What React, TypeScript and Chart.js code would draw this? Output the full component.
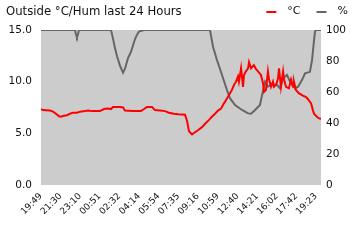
import React, { useEffect, useRef } from 'react';
import { Chart, registerables } from 'chart.js';

Chart.register(...registerables);

const chartTitle = 'Outside °C/Hum last 24 Hours';
const seriesNames = ['°C', '%'];
const seriesColors = ['#ff0000', '#666666'];

// x tick labels (clock times); the axis runs 24 h starting at the first one
const tickLabels = ['19:49', '21:30', '23:10', '00:51', '02:32', '04:14', '05:54', '07:35', '09:16', '10:59', '12:40', '14:21', '16:02', '17:42', '19:23'];
const spanMinutes = 1440;

// temperature samples: minutes after 19:49, and °C
const tempMinutes = [0, 10, 46, 62, 77, 93, 103, 118, 134, 149, 165, 185, 201, 226, 242, 262, 303, 324, 345, 360, 370, 406, 422, 432, 473, 514, 530, 545, 571, 586, 612, 638, 658, 684, 705, 741, 751, 761, 777, 792, 807, 828, 843, 864, 879, 895, 910, 926, 941, 951, 967, 982, 993, 1003, 1013, 1018, 1029, 1039, 1044, 1054, 1065, 1070, 1080, 1090, 1095, 1106, 1116, 1131, 1142, 1147, 1157, 1167, 1173, 1183, 1193, 1198, 1209, 1219, 1224, 1234, 1245, 1250, 1260, 1275, 1286, 1296, 1301, 1311, 1327, 1347, 1363, 1373, 1389, 1399, 1404, 1419, 1430, 1440];
const tempValues = [7.35, 7.25, 7.2, 7.1, 6.9, 6.65, 6.6, 6.7, 6.75, 6.9, 7.0, 7.0, 7.1, 7.15, 7.2, 7.15, 7.15, 7.35, 7.4, 7.35, 7.55, 7.55, 7.5, 7.2, 7.15, 7.15, 7.35, 7.55, 7.55, 7.25, 7.2, 7.15, 7.0, 6.9, 6.85, 6.8, 6.2, 5.2, 4.9, 5.1, 5.3, 5.6, 5.9, 6.3, 6.6, 6.9, 7.2, 7.4, 7.9, 8.2, 8.7, 9.2, 9.7, 10.0, 10.5, 10.0, 11.3, 9.5, 10.65, 11.0, 11.3, 11.9, 11.3, 11.5, 11.6, 11.2, 11.0, 10.65, 9.85, 9.0, 9.2, 11.0, 10.2, 9.5, 10.0, 9.5, 9.7, 10.3, 11.3, 9.5, 11.0, 10.2, 9.5, 9.35, 10.2, 9.5, 10.0, 9.2, 8.87, 8.65, 8.5, 8.3, 7.9, 7.2, 6.9, 6.6, 6.45, 6.4];

// humidity samples: minutes after 19:49, and %
const humMinutes = [0, 175, 180, 185, 190, 195, 360, 370, 381, 391, 406, 422, 432, 447, 463, 473, 483, 494, 504, 530, 869, 885, 905, 931, 957, 972, 998, 1034, 1054, 1065, 1080, 1101, 1126, 1142, 1152, 1167, 1188, 1214, 1229, 1245, 1265, 1281, 1306, 1322, 1342, 1358, 1383, 1394, 1399, 1409, 1414, 1440];
const humValues = [100, 100, 97, 95.5, 97, 100, 100, 94.6, 88, 83, 77, 72.5, 75, 81.7, 86, 90, 94, 97, 99, 100, 100, 89, 80.6, 71, 61, 56, 51.6, 48.4, 47, 46.2, 46, 48.4, 51.6, 61, 66.6, 63.4, 65, 64.5, 62.4, 68.8, 71, 66.6, 62.4, 63.4, 67.7, 72, 73, 80.6, 87, 99, 100, 100];

const toMin = (s: string) => {
  const [h, m] = s.split(':').map(Number);
  return h * 60 + m;
};
const tickMinutes = tickLabels.map((l) => (toMin(l) - toMin(tickLabels[0]) + 1440) % 1440);

const FONT = '"DejaVu Sans", sans-serif';
const TEXT = '#111111';

const plotBackground = {
  id: 'plotBackground',
  beforeDraw(chart: any) {
    const { ctx, chartArea } = chart;
    ctx.save();
    ctx.fillStyle = '#cccccc';
    ctx.fillRect(chartArea.left, chartArea.top, chartArea.right - chartArea.left, chartArea.bottom - chartArea.top);
    ctx.restore();
  },
};

const header = {
  id: 'header',
  afterDraw(chart: any) {
    const { ctx } = chart;
    ctx.save();
    ctx.fillStyle = TEXT;
    ctx.textBaseline = 'alphabetic';
    ctx.textAlign = 'left';
    ctx.font = `11.7px ${FONT}`;
    ctx.fillText(chartTitle, 6, 15);
    // legend, right aligned
    ctx.font = `11px ${FONT}`;
    const dash = 10, gap = 11, between = 16;
    const ds = chart.data.datasets;
    let total = 0;
    ds.forEach((d: any, i: number) => {
      total += dash + gap + ctx.measureText(d.label).width + (i < ds.length - 1 ? between : 0);
    });
    let x = 348 - total;
    ds.forEach((d: any) => {
      ctx.fillStyle = d.borderColor;
      ctx.fillRect(x, 11, dash, 2);
      x += dash + gap;
      ctx.fillStyle = TEXT;
      ctx.fillText(d.label, x, 14);
      x += ctx.measureText(d.label).width + between;
    });
    ctx.restore();
  },
};

export default function App() {
  const ref = useRef<HTMLCanvasElement>(null);
  useEffect(() => {
    if (!ref.current) return;
    const chart = new Chart(ref.current, {
      type: 'line',
      data: {
        datasets: [
          {
            label: seriesNames[0],
            data: tempMinutes.map((m, i) => ({ x: m, y: tempValues[i] })),
            borderColor: seriesColors[0],
            backgroundColor: seriesColors[0],
            borderWidth: 2,
            pointRadius: 0,
            tension: 0,
            yAxisID: 'y',
          },
          {
            label: seriesNames[1],
            data: humMinutes.map((m, i) => ({ x: m, y: humValues[i] })),
            borderColor: seriesColors[1],
            backgroundColor: seriesColors[1],
            borderWidth: 2,
            pointRadius: 0,
            tension: 0,
            yAxisID: 'y1',
          },
        ],
      },
      options: {
        animation: false,
        responsive: false,
        layout: { padding: { top: 30, left: 0, right: 0, bottom: 0 } },
        plugins: { legend: { display: false }, title: { display: false }, tooltip: { enabled: false } },
        scales: {
          x: {
            type: 'linear',
            min: 0,
            max: spanMinutes,
            grid: { display: false, drawTicks: false },
            border: { display: false },
            afterBuildTicks: (s: any) => {
              s.ticks = tickMinutes.map((v) => ({ value: v }));
            },
            afterFit: (s: any) => {
              s.height = 55;
            },
            ticks: {
              autoSkip: false,
              minRotation: 45,
              maxRotation: 45,
              padding: 6,
              color: TEXT,
              font: { family: FONT, size: 9 },
              callback: (v: any) => tickLabels[tickMinutes.indexOf(Number(v))] ?? '',
            },
          },
          y: {
            position: 'left',
            min: 0,
            max: 15,
            grid: { display: false, drawTicks: false },
            border: { display: false },
            afterFit: (s: any) => {
              s.width = 41;
            },
            ticks: {
              stepSize: 5,
              padding: 9,
              color: TEXT,
              font: { family: FONT, size: 10.5 },
              callback: (v: any) => Number(v).toFixed(1),
            },
          },
          y1: {
            position: 'right',
            min: 0,
            max: 100,
            grid: { display: false, drawTicks: false },
            border: { display: false },
            afterFit: (s: any) => {
              s.width = 39;
            },
            ticks: {
              stepSize: 20,
              padding: 5,
              color: TEXT,
              font: { family: FONT, size: 10.5 },
            },
          },
        },
      },
      plugins: [plotBackground, header],
    });
    return () => chart.destroy();
  }, []);
  return (
    <div style={{ position: 'fixed', left: 0, top: 0, width: 360, height: 240, background: '#fff' }}>
      <canvas ref={ref} width={360} height={240} style={{ display: 'block' }} />
    </div>
  );
}
